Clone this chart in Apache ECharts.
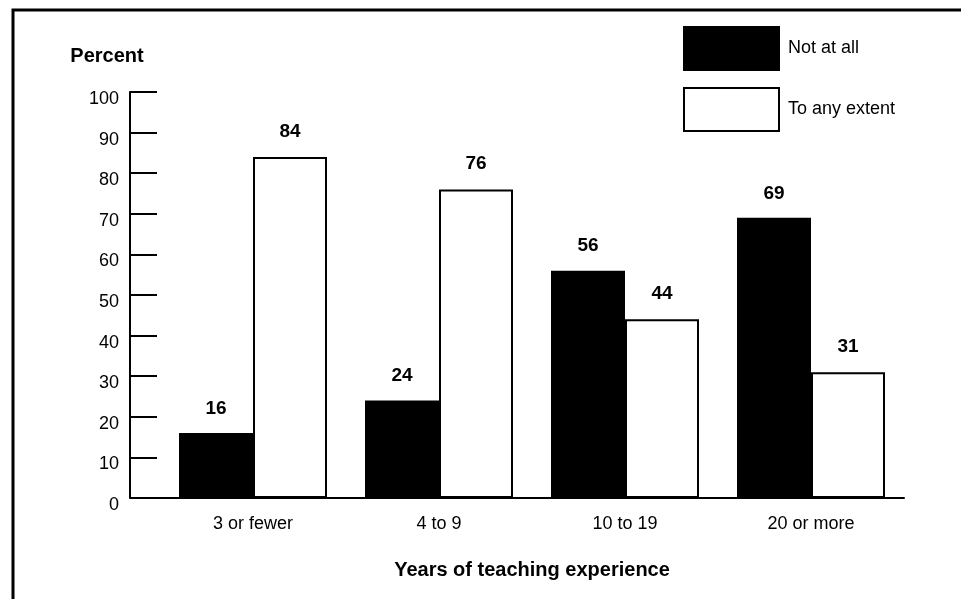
<!DOCTYPE html>
<html>
<head>
<meta charset="utf-8">
<script src="https://cdn.jsdelivr.net/npm/echarts@6/dist/echarts.min.js"></script>
<style>
html,body{margin:0;padding:0;background:#fff;}
#chart{width:961px;height:599px;}
</style>
</head>
<body>
<div id="chart"></div>
<script>
var categories = ['3 or fewer', '4 to 9', '10 to 19', '20 or more'];
var notAtAll = [16, 24, 56, 69];
var toAnyExtent = [84, 76, 44, 31];
var seriesNames = ['Not at all', 'To any extent'];
var yTicks = [0, 10, 20, 30, 40, 50, 60, 70, 80, 90, 100];

var FONT = 'Liberation Sans, Arial, Helvetica, sans-serif';
var chart = echarts.init(document.getElementById('chart'));
var option = {
  backgroundColor: '#ffffff',
  animation: false,
  textStyle: { fontFamily: FONT, color: '#000' },
  grid: { left: 160, right: 57, top: 92, bottom: 101 },
  legend: {
    orient: 'vertical',
    left: 678,
    top: 21,
    itemWidth: 95,
    itemHeight: 43,
    itemGap: 16,
    icon: 'rect',
    textStyle: { fontFamily: FONT, fontSize: 18, color: '#000', padding: [0, 0, 0, 4] },
    data: [
      { name: seriesNames[0], itemStyle: { color: '#000', borderColor: '#000', borderWidth: 2 } },
      { name: seriesNames[1], itemStyle: { color: '#fff', borderColor: '#000', borderWidth: 2 } }
    ]
  },
  xAxis: {
    type: 'category',
    data: categories,
    axisLine: { lineStyle: { color: '#000', width: 2 } },
    axisTick: { show: false },
    axisLabel: { fontFamily: FONT, fontSize: 18, color: '#000', margin: 17 },
    name: 'Years of teaching experience',
    nameLocation: 'middle',
    nameGap: 62,
    nameTextStyle: { fontFamily: FONT, fontSize: 20, fontWeight: 'bold', color: '#000' }
  },
  yAxis: {
    type: 'value',
    min: 0,
    max: 100,
    interval: 10,
    offset: 30,
    axisLine: { show: true, lineStyle: { color: '#000', width: 2 } },
    axisTick: { show: true, inside: true, length: 27, lineStyle: { color: '#000', width: 2 } },
    splitLine: { show: false },
    axisLabel: {
      fontFamily: FONT, fontSize: 18, color: '#000', margin: 11,
      verticalAlign: 'top',
      lineHeight: 14,
      formatter: function (v) { return yTicks.indexOf(v) >= 0 ? String(v) : ''; }
    },
    name: 'Percent',
    nameLocation: 'end',
    nameGap: 26,
    nameTextStyle: { fontFamily: FONT, fontSize: 20, fontWeight: 'bold', color: '#000', padding: [0, 46, 0, 0] }
  },
  series: [
    {
      name: seriesNames[0],
      type: 'bar',
      data: notAtAll,
      barWidth: 74,
      barGap: '0%',
      itemStyle: { color: '#000', borderColor: '#000', borderWidth: 2 },
      label: { show: true, position: 'top', distance: 15, fontFamily: FONT, fontSize: 19, fontWeight: 'bold', color: '#000' }
    },
    {
      name: seriesNames[1],
      type: 'bar',
      data: toAnyExtent,
      barWidth: 74,
      barGap: '0%',
      itemStyle: { color: '#fff', borderColor: '#000', borderWidth: 2 },
      label: { show: true, position: 'top', distance: 16, fontFamily: FONT, fontSize: 19, fontWeight: 'bold', color: '#000' }
    }
  ],
  graphic: [
    { type: 'line', shape: { x1: 130, y1: 498, x2: 162, y2: 498 }, style: { stroke: '#000', lineWidth: 2 } },
    { type: 'rect', shape: { x: 13, y: 10, width: 1000, height: 700 }, style: { fill: null, stroke: '#000', lineWidth: 3 }, silent: true }
  ]
};
chart.setOption(option);
</script>
</body>
</html>
